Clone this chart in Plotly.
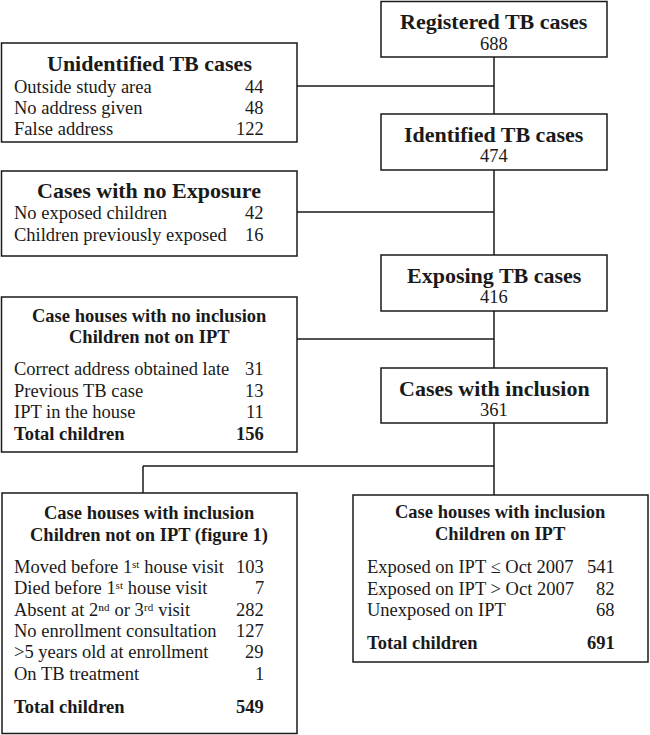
import plotly.graph_objects as go

# ---- data ----
main_titles = ["Registered TB cases", "Identified TB cases", "Exposing TB cases", "Cases with inclusion"]
main_counts = [688, 474, 416, 361]

unident_title = "Unidentified TB cases"
unident_labels = ["Outside study area", "No address given", "False address"]
unident_counts = [44, 48, 122]

noexp_title = "Cases with no Exposure"
noexp_labels = ["No exposed children", "Children previously exposed"]
noexp_counts = [42, 16]

noincl_title = ["Case houses with no inclusion", "Children not on IPT"]
noincl_labels = ["Correct address obtained late", "Previous TB case", "IPT in the house"]
noincl_counts = [31, 13, 11]
noincl_total = 156

inclnot_title = ["Case houses with inclusion", "Children not on IPT (figure 1)"]
inclnot_labels = ["Moved before 1\u02e2\u1d57 house visit", "Died before 1\u02e2\u1d57 house visit",
                  "Absent at 2\u207f\u1d48 or 3\u02b3\u1d48 visit", "No enrollment consultation",
                  ">5 years old at enrollment", "On TB treatment"]
inclnot_counts = [103, 7, 282, 127, 29, 1]
inclnot_total = 549

inclon_title = ["Case houses with inclusion", "Children on IPT"]
inclon_labels = ["Exposed on IPT \u2264 Oct 2007", "Exposed on IPT > Oct 2007", "Unexposed on IPT"]
inclon_counts = [541, 82, 68]
inclon_total = 691

FONT = "Liberation Serif, Times New Roman, serif"
INK = "#1a1a1a"
W, H = 650, 735
BODY = 18.5
TITLE = 22
SUB = 18.5

shapes = []
ann = []

def box(x0, y0, x1, y1):
    shapes.append(dict(type="rect", x0=x0, y0=y0, x1=x1, y1=y1, xref="x", yref="y",
                       line=dict(color=INK, width=1.5), fillcolor="white", layer="above"))

def line(x0, y0, x1, y1):
    shapes.append(dict(type="line", x0=x0, y0=y0, x1=x1, y1=y1, xref="x", yref="y",
                       line=dict(color=INK, width=1.5), layer="below"))

def text(x, y, s, size, anchor="center", bold=False):
    if bold:
        s = "<b>" + s + "</b>"
    ann.append(dict(x=x, y=y, xref="x", yref="y", text=s, showarrow=False,
                    xanchor=anchor, yanchor="middle",
                    font=dict(family=FONT, size=size, color=INK)))

# connectors
CX = 494
line(CX, 57, CX, 114)
line(CX, 170, CX, 255)
line(CX, 311, CX, 368)
line(CX, 423, CX, 495)
line(297, 86, CX, 86)
line(297, 212, CX, 212)
line(297, 339, CX, 339)
line(143, 466, CX, 466)
line(143, 466, 143, 493)

# main column boxes
main_y = [(1.5, 57), (114, 170), (255, 311), (368, 423)]
for (t, c, (y0, y1)) in zip(main_titles, main_counts, main_y):
    box(381, y0, 607, y1)
    text(CX, y0 + 20, t, TITLE, bold=True)
    text(CX, y0 + 42, str(c), BODY)

# unidentified
box(1.5, 43, 297, 142)
text(149, 63, unident_title, TITLE, bold=True)
for i, (l, c) in enumerate(zip(unident_labels, unident_counts)):
    y = 87 + i * 21
    text(12, y, l, BODY, "left")
    text(266, y, str(c), BODY, "right")

# no exposure
box(1.5, 171, 297, 256)
text(149, 190, noexp_title, TITLE, bold=True)
for i, (l, c) in enumerate(zip(noexp_labels, noexp_counts)):
    y = 213 + i * 22
    text(12, y, l, BODY, "left")
    text(266, y, str(c), BODY, "right")

# no inclusion
box(1.5, 297, 297, 452)
text(149, 316, noincl_title[0], SUB, bold=True)
text(149, 337, noincl_title[1], SUB, bold=True)
for i, (l, c) in enumerate(zip(noincl_labels, noincl_counts)):
    y = 369 + i * 21.5
    text(12, y, l, BODY, "left")
    text(266, y, str(c), BODY, "right")
text(12, 434, "Total children", BODY, "left", bold=True)
text(266, 434, str(noincl_total), BODY, "right", bold=True)

# inclusion, not on IPT
box(2, 493, 297, 733.5)
text(149, 513, inclnot_title[0], SUB, bold=True)
text(149, 535, inclnot_title[1], SUB, bold=True)
for i, (l, c) in enumerate(zip(inclnot_labels, inclnot_counts)):
    y = 567 + i * 21.3
    text(12, y, l, BODY, "left")
    text(266, y, str(c), BODY, "right")
text(12, 707, "Total children", BODY, "left", bold=True)
text(266, 707, str(inclnot_total), BODY, "right", bold=True)

# inclusion, on IPT
box(353, 495, 648, 662)
text(500, 512, inclon_title[0], SUB, bold=True)
text(500, 534, inclon_title[1], SUB, bold=True)
for i, (l, c) in enumerate(zip(inclon_labels, inclon_counts)):
    y = 567 + i * 21.5
    text(365, y, l, BODY, "left")
    text(617, y, str(c), BODY, "right")
text(365, 643, "Total children", BODY, "left", bold=True)
text(617, 643, str(inclon_total), BODY, "right", bold=True)

fig = go.Figure()
fig.update_layout(
    width=W, height=H, margin=dict(l=0, r=0, t=0, b=0),
    paper_bgcolor="white", plot_bgcolor="white",
    xaxis=dict(range=[0, W], visible=False, fixedrange=True),
    yaxis=dict(range=[H, 0], visible=False, fixedrange=True),
    shapes=shapes, annotations=ann, showlegend=False,
)
fig.write_html("out.html", config={"displayModeBar": False},
               post_script="document.body.style.margin='0';document.body.style.overflow='hidden';")
